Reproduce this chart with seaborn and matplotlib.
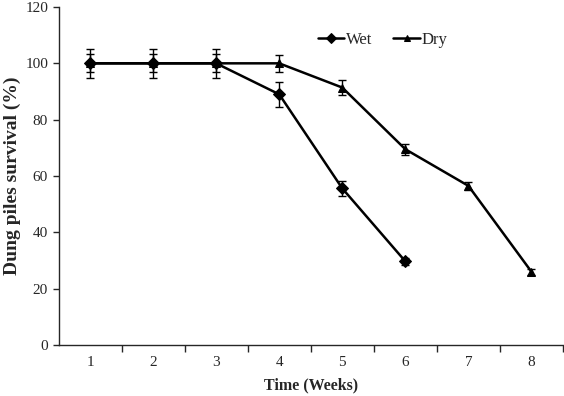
import pandas as pd
import seaborn as sns
import matplotlib.pyplot as plt
from matplotlib.ticker import FixedLocator, NullFormatter

# Data
weeks_wet = [1, 2, 3, 4, 5, 6]
wet = [100, 100, 100, 89, 55.6, 29.7]
wet_err = [5.2, 5.2, 5.2, 4.4, 2.7, 1.2]

weeks_dry = [1, 2, 3, 4, 5, 6, 7, 8]
dry = [100, 100, 100, 100, 91.4, 69.5, 56.5, 26]
dry_err = [3.2, 3.2, 3.2, 3.0, 2.8, 2.0, 1.5, 1.0]

x_labels = ['1', '2', '3', '4', '5', '6', '7', '8']

df = pd.concat([
    pd.DataFrame({'Week': weeks_wet, 'Survival': wet, 'Err': wet_err, 'Condition': 'Wet'}),
    pd.DataFrame({'Week': weeks_dry, 'Survival': dry, 'Err': dry_err, 'Condition': 'Dry'}),
])

sns.set_style('ticks')
plt.rcParams['font.family'] = ['Liberation Serif', 'DejaVu Serif']

fig = plt.figure(figsize=(5.64, 3.96), dpi=100)
ax = fig.add_axes([58.5 / 564, 1 - 345 / 396, (563 - 58.5) / 564, (345 - 7) / 396])

sns.lineplot(data=df, x='Week', y='Survival', hue='Condition', style='Condition',
             markers={'Wet': 'D', 'Dry': '^'}, dashes=False,
             palette={'Wet': 'black', 'Dry': 'black'}, linewidth=1.8,
             markersize=6, markeredgecolor='black', ax=ax)

for cond, sub in df.groupby('Condition'):
    ax.errorbar(sub['Week'], sub['Survival'], yerr=sub['Err'], fmt='none',
                ecolor='black', elinewidth=1, capsize=3, capthick=1)

ax.set_xlim(0.5, 8.5)
ax.set_ylim(0, 120)
ax.set_yticks(range(0, 121, 20))
ax.set_xticks(weeks_dry)
ax.set_xticklabels(x_labels)
ax.xaxis.set_minor_locator(FixedLocator([w + 0.5 for w in weeks_dry]))
ax.xaxis.set_minor_formatter(NullFormatter())
ax.tick_params(axis='x', which='major', length=0, pad=8, labelsize=11)
ax.tick_params(axis='x', which='minor', length=5, width=1, direction='out')
ax.tick_params(axis='y', length=4, width=1, labelsize=11)

ax.set_xlabel('Time (Weeks)', fontsize=11.5, fontweight='bold', labelpad=6)
ax.set_ylabel('Dung piles survival (%)', fontsize=14, fontweight='bold', labelpad=3)
for side in ['left', 'bottom']:
    ax.spines[side].set_linewidth(1)
sns.despine(ax=ax)

handles, labels = ax.get_legend_handles_labels()
for h in handles:
    h.set_markersize(5)
ax.legend(handles, labels, loc='upper left', bbox_to_anchor=(0.484, 0.97), ncol=2,
          frameon=False, fontsize=12, handlelength=1.6, handletextpad=0.1,
          columnspacing=1.25)

plt.savefig('out.png', dpi=100)
